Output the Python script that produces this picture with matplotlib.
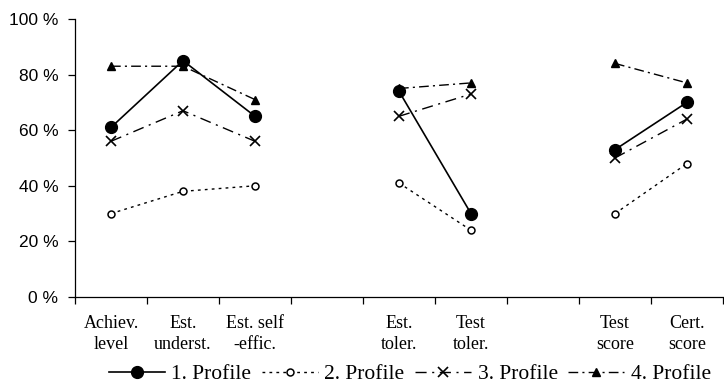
import numpy as np
import matplotlib.pyplot as plt

# Categories (empty strings are the gaps between groups)
categories = ["Achiev.\nlevel", "Est.\nunderst.", "Est. self\n-effic.", "",
              "Est.\ntoler.", "Test\ntoler.", "", "Test\nscore", "Cert.\nscore"]
nan = np.nan
profile1 = [61, 85, 65, nan, 74, 30, nan, 53, 70]
profile2 = [30, 38, 40, nan, 41, 24, nan, 30, 48]
profile3 = [56, 67, 56, nan, 65, 73, nan, 50, 64]
profile4 = [83, 83, 71, nan, 75, 77, nan, 84, 77]
yticks = [0, 20, 40, 60, 80, 100]

serif = "Liberation Serif"
sans = "Liberation Sans"

fig = plt.figure(figsize=(7.24, 3.87), dpi=100)
ax = fig.add_axes([0.1036, 0.2326, 0.8950, 0.7184])

x = np.arange(len(categories))
ax.plot(x, profile4, color="black", lw=1.0, dashes=(7, 3, 1.5, 3),
        marker="^", ms=6, mfc="black", mec="black", label="4. Profile", zorder=2)
ax.plot(x, profile3, color="black", lw=1.0, dashes=(8, 4, 1.5, 4),
        marker="x", ms=7, mew=1.2, label="3. Profile", zorder=3)
ax.plot(x, profile2, color="black", lw=1.0, dashes=(2, 3),
        marker="o", ms=5, mfc="white", mec="black", mew=1.1, label="2. Profile", zorder=4)
ax.plot(x, profile1, color="black", lw=1.2, ls="-",
        marker="o", ms=8.5, mfc="black", mec="black", label="1. Profile", zorder=5)

ax.set_xlim(-0.5, len(categories) - 0.5)
ax.set_ylim(0, 100)
ax.set_yticks(yticks)
ax.set_yticklabels([f"{v} %" for v in yticks], fontfamily=sans, fontsize=12.5)
ax.tick_params(axis="y", direction="out", length=5, width=0.9, pad=7)

ax.set_xticks(np.arange(-0.5, len(categories)), minor=False)
ax.set_xticklabels([])
ax.tick_params(axis="x", which="major", direction="out", length=5, width=0.9)
ax.set_xticks(x, minor=True)
ax.set_xticklabels(categories, minor=True, fontfamily=serif, fontsize=13,
                   linespacing=1.3)
ax.tick_params(axis="x", which="minor", length=0, pad=13)

for s in ["top", "right"]:
    ax.spines[s].set_visible(False)
for s in ["left", "bottom"]:
    ax.spines[s].set_linewidth(0.9)

handles, labels = ax.get_legend_handles_labels()
order = [3, 2, 1, 0]
leg = fig.legend([handles[i] for i in order], [labels[i] for i in order],
                 loc="center", bbox_to_anchor=(0.566, 0.033), ncol=4,
                 frameon=False, handlelength=2.6, columnspacing=0.5,
                 handletextpad=0.3, prop={"family": serif, "size": 15.5})

fig.savefig("out.png", dpi=100)
